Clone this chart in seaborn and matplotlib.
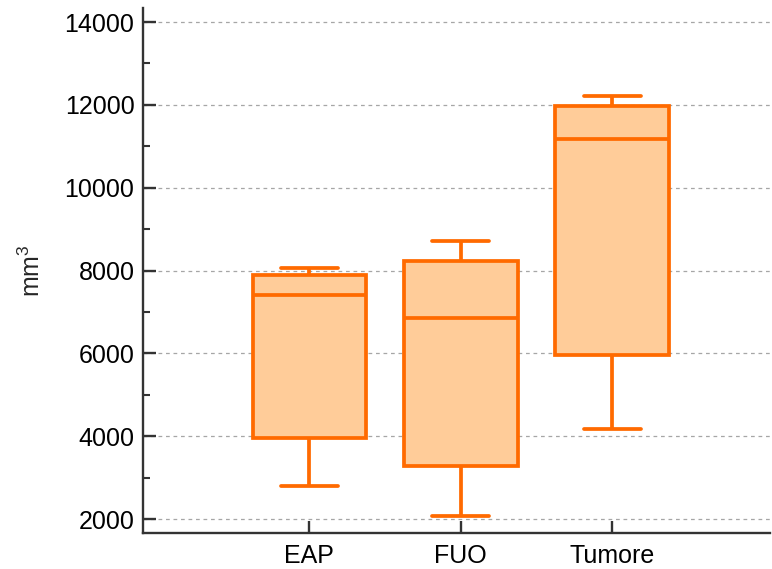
import numpy as np
import pandas as pd
import matplotlib
matplotlib.use("Agg")
import matplotlib.pyplot as plt
import seaborn as sns
from matplotlib.ticker import MultipleLocator

categories = ["EAP", "FUO", "Tumore"]
# five-number summaries: min, Q1, median, Q3, max
eap = [2800, 3955, 7410, 7890, 8060]
fuo = [2070, 3280, 6850, 8230, 8710]
tumore = [4170, 5960, 11170, 11970, 12210]

df = pd.DataFrame({
    "group": [categories[0]] * len(eap) + [categories[1]] * len(fuo) + [categories[2]] * len(tumore),
    "value": eap + fuo + tumore,
})

sns.set_style("white")
plt.rcParams["font.family"] = ["Liberation Sans", "DejaVu Sans"]
plt.rcParams["mathtext.fontset"] = "custom"
plt.rcParams["mathtext.rm"] = "Liberation Sans"
plt.rcParams["mathtext.it"] = "Liberation Sans"

edge = "#FF6A00"
fill = "#FFCC99"

fig = plt.figure(figsize=(7.72, 5.69), dpi=100)
ax = fig.add_axes([0.185, 0.063, 0.812, 0.923])

sns.boxplot(data=df, x="group", y="value", order=categories, ax=ax,
            whis=np.inf, width=0.75, color=fill, linecolor=edge, linewidth=2.7,
            saturation=1, showfliers=False,
            boxprops=dict(facecolor=fill, edgecolor=edge),
            medianprops=dict(color=edge), whiskerprops=dict(color=edge),
            capprops=dict(color=edge), zorder=3)

ax.set_xlim(-1.1, 3.04)
ax.set_ylim(1660, 14340)
ax.yaxis.set_major_locator(MultipleLocator(2000))
ax.yaxis.set_minor_locator(MultipleLocator(1000))
ax.yaxis.grid(True, which="major", linestyle=(0, (3, 3)), color="#a6a6a6", linewidth=0.9, zorder=0)
ax.set_axisbelow(True)

for s in ["top", "right"]:
    ax.spines[s].set_visible(False)
for s in ["left", "bottom"]:
    ax.spines[s].set_color("#333333")
    ax.spines[s].set_linewidth(1.7)

ax.tick_params(axis="both", which="major", direction="in", length=9, width=1.7,
               color="#333333", labelsize=18, labelcolor="black", left=True, bottom=True)
ax.tick_params(axis="y", which="minor", direction="in", length=5, width=1.5,
               color="#333333", left=True)
ax.tick_params(axis="x", pad=8)
ax.tick_params(axis="y", pad=6)
ax.set_xlabel("")
ax.set_ylabel("mm$^{3}$", fontsize=18, labelpad=14)

fig.savefig("out.png", dpi=100)
